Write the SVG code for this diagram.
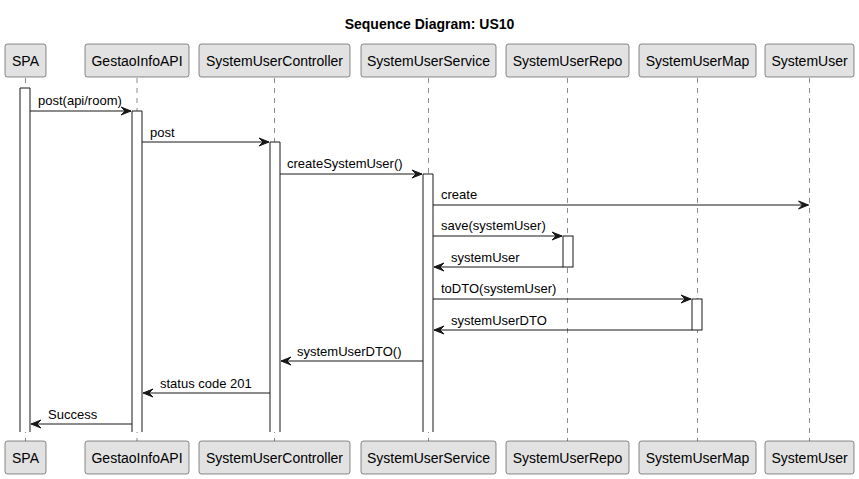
<svg xmlns="http://www.w3.org/2000/svg" width="859" height="479" viewBox="0 0 859 479">
<defs>
<style>
.box{fill:#E2E2E2;stroke:#181818;stroke-width:0.5}
.life{stroke:#181818;stroke-width:0.5;stroke-dasharray:5,5;fill:none}
.act{fill:#FFFFFF;stroke:#181818;stroke-width:1}
.msg{stroke:#181818;stroke-width:1;fill:none}
.arr{fill:#181818;stroke:#181818;stroke-width:1}
.pt{font-family:"Liberation Sans",Arial,sans-serif;font-size:14px;fill:#000000;text-anchor:middle}
.ml{font-family:"Liberation Sans",Arial,sans-serif;font-size:13px;fill:#000000}
.title{font-family:"Liberation Sans",Arial,sans-serif;font-size:14px;font-weight:bold;fill:#000000;text-anchor:middle}
</style>
</defs>
<rect width="859" height="479" fill="#FFFFFF"/>
<text class="title" x="429.5" y="29">Sequence Diagram: US10</text>

<g id="lifelines">
<line class="life" x1="25.5" y1="78" x2="25.5" y2="441"/>
<line class="life" x1="137" y1="78" x2="137" y2="441"/>
<line class="life" x1="274.5" y1="78" x2="274.5" y2="441"/>
<line class="life" x1="428.5" y1="78" x2="428.5" y2="441"/>
<line class="life" x1="567.5" y1="78" x2="567.5" y2="441"/>
<line class="life" x1="697.5" y1="78" x2="697.5" y2="441"/>
<line class="life" x1="809.5" y1="78" x2="809.5" y2="441"/>
</g>

<g id="SPA">
<rect class="box" x="5" y="44" width="41" height="33" rx="2.5"/>
<text class="pt" x="25.5" y="66">SPA</text>
<rect class="box" x="5" y="441" width="41" height="33" rx="2.5"/>
<text class="pt" x="25.5" y="463">SPA</text>
<path class="act" d="M20,432 V88 H30 V432"/>
</g>
<g id="GestaoInfoAPI">
<rect class="box" x="85" y="44" width="104" height="33" rx="2.5"/>
<text class="pt" x="137" y="66">GestaoInfoAPI</text>
<rect class="box" x="85" y="441" width="104" height="33" rx="2.5"/>
<text class="pt" x="137" y="463">GestaoInfoAPI</text>
<path class="act" d="M132,432 V111 H142 V432"/>
</g>
<g id="SystemUserController">
<rect class="box" x="199" y="44" width="151" height="33" rx="2.5"/>
<text class="pt" x="274.5" y="66">SystemUserController</text>
<rect class="box" x="199" y="441" width="151" height="33" rx="2.5"/>
<text class="pt" x="274.5" y="463">SystemUserController</text>
<path class="act" d="M270,432 V142 H280 V432"/>
</g>
<g id="SystemUserService">
<rect class="box" x="361" y="44" width="135" height="33" rx="2.5"/>
<text class="pt" x="428.5" y="66">SystemUserService</text>
<rect class="box" x="361" y="441" width="135" height="33" rx="2.5"/>
<text class="pt" x="428.5" y="463">SystemUserService</text>
<path class="act" d="M423,432 V174 H433 V432"/>
</g>
<g id="SystemUserRepo">
<rect class="box" x="506" y="44" width="123" height="33" rx="2.5"/>
<text class="pt" x="567.5" y="66">SystemUserRepo</text>
<rect class="box" x="506" y="441" width="123" height="33" rx="2.5"/>
<text class="pt" x="567.5" y="463">SystemUserRepo</text>
<rect class="act" x="563" y="236" width="10" height="31"/>
</g>
<g id="SystemUserMap">
<rect class="box" x="639" y="44" width="117" height="33" rx="2.5"/>
<text class="pt" x="697.5" y="66">SystemUserMap</text>
<rect class="box" x="639" y="441" width="117" height="33" rx="2.5"/>
<text class="pt" x="697.5" y="463">SystemUserMap</text>
<rect class="act" x="692" y="299" width="10" height="31"/>
</g>
<g id="SystemUser">
<rect class="box" x="765" y="44" width="89" height="33" rx="2.5"/>
<text class="pt" x="809.5" y="66">SystemUser</text>
<rect class="box" x="765" y="441" width="89" height="33" rx="2.5"/>
<text class="pt" x="809.5" y="463">SystemUser</text>
</g>

<g id="connectors">
<line class="msg" x1="30" y1="111" x2="131" y2="111"/>
<polygon class="arr" points="121,107 131,111 121,115 125,111"/>
<text class="ml" x="38" y="105">post(api/room)</text>

<line class="msg" x1="142" y1="142" x2="269" y2="142"/>
<polygon class="arr" points="259,138 269,142 259,146 263,142"/>
<text class="ml" x="150" y="137">post</text>

<line class="msg" x1="280" y1="174" x2="422" y2="174"/>
<polygon class="arr" points="412,170 422,174 412,178 416,174"/>
<text class="ml" x="287" y="168">createSystemUser()</text>

<line class="msg" x1="433" y1="205" x2="808.5" y2="205"/>
<polygon class="arr" points="798.5,201 808.5,205 798.5,209 802.5,205"/>
<text class="ml" x="441" y="199">create</text>

<line class="msg" x1="433" y1="236" x2="562" y2="236"/>
<polygon class="arr" points="552,232 562,236 552,240 556,236"/>
<text class="ml" x="441" y="230">save(systemUser)</text>

<line class="msg" x1="434" y1="267" x2="563" y2="267"/>
<polygon class="arr" points="444,263 434,267 444,271 440,267"/>
<text class="ml" x="451" y="262">systemUser</text>

<line class="msg" x1="433" y1="299" x2="691" y2="299"/>
<polygon class="arr" points="681,295 691,299 681,303 685,299"/>
<text class="ml" x="441" y="293">toDTO(systemUser)</text>

<line class="msg" x1="434" y1="330" x2="692" y2="330"/>
<polygon class="arr" points="444,326 434,330 444,334 440,330"/>
<text class="ml" x="451" y="325">systemUserDTO</text>

<line class="msg" x1="281" y1="361" x2="423" y2="361"/>
<polygon class="arr" points="291,357 281,361 291,365 287,361"/>
<text class="ml" x="297" y="356">systemUserDTO()</text>

<line class="msg" x1="143" y1="393" x2="270" y2="393"/>
<polygon class="arr" points="153,389 143,393 153,397 149,393"/>
<text class="ml" x="160" y="388">status code 201</text>

<line class="msg" x1="31" y1="424" x2="132" y2="424"/>
<polygon class="arr" points="41,420 31,424 41,428 37,424"/>
<text class="ml" x="48" y="419">Success</text>
</g>
</svg>
